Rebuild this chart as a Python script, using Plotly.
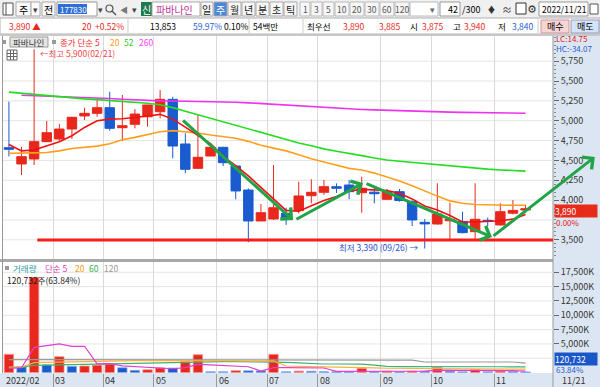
import plotly.graph_objects as go

W, H = 600, 387
FONT = "Noto Sans CJK KR"

# ---------------- DATA ----------------
weeks = ["2022-02-07","2022-02-14","2022-02-21","2022-02-28","2022-03-07","2022-03-14","2022-03-21","2022-03-28",
         "2022-04-04","2022-04-11","2022-04-18","2022-04-25","2022-05-02","2022-05-09","2022-05-16","2022-05-23",
         "2022-05-30","2022-06-06","2022-06-13","2022-06-20","2022-06-27","2022-07-04","2022-07-11","2022-07-18",
         "2022-07-25","2022-08-01","2022-08-08","2022-08-15","2022-08-22","2022-08-29","2022-09-05","2022-09-12",
         "2022-09-19","2022-09-26","2022-10-03","2022-10-10","2022-10-17","2022-10-24","2022-10-31","2022-11-07",
         "2022-11-14","2022-11-21"]

opens  = [4660,4455,4518,4736,4770,4895,5060,5093,5164,4912,4955,5050,5113,5269,4707,4400,4555,4665,4429,4127,
          3737,3762,3834,3867,4055,4098,4169,4190,4093,4100,4010,4106,3980,3720,3699,3740,3728,3602,3745,3687,
          3835,3875]
highs  = [5240,4672,5900,4996,4960,5050,5164,5282,5365,5324,5147,5200,5387,5302,4841,5072,4680,4670,4430,4148,
          3951,4442,3904,4232,4262,4253,4210,4253,4295,4170,4140,4140,4000,3760,4212,3967,3854,4212,3780,3960,
          4000,3940]
lows   = [4550,4316,4442,4730,4750,4770,5009,5050,4874,4744,4904,4925,5030,4526,4338,4400,4555,4429,4010,3469,
          3737,3750,3687,3834,3960,4064,4090,4010,3841,3960,4000,3980,3674,3390,3690,3510,3580,3506,3670,3680,
          3820,3840]
closes = [4640,4547,4736,4849,4895,5043,5093,5164,4904,4937,5084,5198,5269,4681,4388,4539,4665,4471,4115,3737,
          3841,3904,3758,4052,4098,4169,4149,4106,4149,4080,4106,3994,3750,3700,3825,3758,3590,3758,3730,3854,
          3870,3890]

ma5   = [4700,4620,4630,4680,4735,4810,4915,5000,5020,5025,5038,5060,5080,5020,4920,4815,4710,4550,4435,4305,
         4165,4015,3870,3860,3930,3995,4045,4115,4135,4130,4120,4085,4015,3925,3875,3805,3725,3725,3730,3740,
         3760,3820]
ma20  = [4590,4590,4595,4600,4620,4650,4665,4680,4710,4760,4790,4825,4860,4875,4860,4845,4820,4800,4780,4740,
         4690,4655,4620,4570,4520,4480,4440,4400,4380,4340,4290,4240,4180,4110,4050,3990,3960,3945,3940,3935,
         3935,3935]
ma52  = [5360,5345,5330,5315,5300,5285,5275,5265,5255,5245,5235,5220,5200,5165,5120,5075,5030,4990,4945,4900,
         4855,4810,4765,4720,4685,4645,4615,4590,4560,4530,4505,4490,4475,4460,4445,4430,4415,4400,4390,4380,
         4370,4365]
ma260 = [None,5320,5315,5310,5300,5295,5290,5285,5280,5270,5262,5255,5250,5248,5246,5244,5241,5238,5232,5225,
         5215,5205,5198,5190,5182,5172,5160,5150,5142,5136,5130,5125,5120,5115,5112,5108,5105,5102,5100,5098,
         5096,5094]

volume = [3190,1000,16630,1350,2780,1100,1150,1300,1500,850,400,500,820,800,1900,3120,160,150,340,320,
          300,3190,150,260,240,170,160,150,750,150,250,150,260,240,900,250,150,500,150,260,
          189,121]   # thousand shares
vma5   = [750,850,4400,4650,5000,4570,4600,1530,1570,1180,1060,910,810,670,880,1430,1360,1230,1130,1020,
          250,860,860,840,830,800,200,200,300,280,290,290,250,250,420,420,410,470,440,370,340,240]
vma20  = [950,950,1750,1800,1900,1950,2000,2050,2100,2100,2100,2100,2100,2100,2100,2150,2100,2050,2050,2000,
          2000,2050,1150,1050,1030,1000,980,950,900,820,760,750,740,730,660,640,630,630,625,620,615,600]
vma60  = [930,950,1250,1300,1350,1400,1450,1500,1550,1600,1650,1700,1750,1800,1850,1900,1900,1900,1900,1900,
          1900,1900,1800,1700,1550,1500,1500,1500,1480,1300,1100,1050,1030,1030,1030,1030,1030,1030,1030,1020,
          1010,1000]
vma120 = [2250,2250,2250,2245,2245,2240,2240,2235,2235,2230,2230,2225,2225,2220,2220,2215,2215,2210,2210,2205,
          2205,2200,2200,2195,2195,2190,2190,2185,2185,2180,2180,2175,2175,1850,1850,1850,1850,1850,1850,1850,
          1850,1650]

# visible axis labels (3,750 and 2,500K are hidden behind the current-value boxes in the original)
price_ticks = [3500,4000,4250,4500,4750,5000,5250,5500,5750]
price_grid = [3500,3750,4000,4250,4500,4750,5000,5250,5500,5750]
vol_ticks = [5000,7500,10000,12500,15000,17500]
vol_grid = [2500,5000,7500,10000,12500,15000,17500]

# user drawn trend arrows (week index, price): start -> end
trend_arrows = [((13.7, 5021), (22.55, 3749)),
                ((22.7, 3749), (28.1, 4215)),
                ((28.26, 4215), (38.34, 3535)),
                ((38.34, 3535), (46.5, 4543))]
support_level = 3497
support_start = 2.25

# ---------------- LAYOUT HELPERS ----------------
idx = list(range(len(weeks)))
XR = [-0.47, 43.18]
YR = [3258, 6067]
VR = [-70, 19295]

RED = "#e8281c"; BLUE = "#1a5ccf"
shapes, annots = [], []

def X(x): return x / W
def Y(y): return 1 - y / H

def rect(x0, y0, x1, y1, fill=None, line=None, lw=1, layer="above"):
    shapes.append(dict(type="rect", xref="paper", yref="paper", x0=X(x0), x1=X(x1), y0=Y(y1), y1=Y(y0),
                       fillcolor=fill or "rgba(0,0,0,0)",
                       line=dict(color=line or "rgba(0,0,0,0)", width=lw if line else 0), layer=layer))

def seg(x0, y0, x1, y1, color, lw=1, layer="above"):
    shapes.append(dict(type="line", xref="paper", yref="paper", x0=X(x0), x1=X(x1), y0=Y(y0), y1=Y(y1),
                       line=dict(color=color, width=lw), layer=layer))

def text(x, y, s, color="#000", size=9, anchor="left", family=FONT):
    annots.append(dict(xref="paper", yref="paper", x=X(x), y=Y(y), text=s, showarrow=False, xanchor=anchor,
                       yanchor="middle", font=dict(family=family, size=size, color=color), borderpad=0))

# ---------------- HEADER (toolbar) ----------------
rect(0, 0, 600, 18, "#f0f0f0", layer="below")
rect(3, 3, 13, 15, "#ffffff", "#555")
seg(6, 3, 6, 15, "#555")
rect(16, 2, 31, 16, "#fafafa", "#aaa"); text(23.5, 9, "주", "#000", 10, "center")
rect(31, 2, 40, 16, "#fafafa", "#aaa"); text(35.5, 9, "▾", "#444", 9, "center")
rect(42, 2, 55, 16, "#fafafa", "#aaa"); text(48.5, 9, "전", "#000", 10, "center")
rect(57, 2, 97, 16, "#ffffff", "#999"); rect(58, 4, 87, 14, "#2f6fd6"); text(59, 9, "177830", "#fff", 8)
text(100.5, 9, "▾", "#444", 9, "center")
shapes.append(dict(type="circle", xref="paper", yref="paper", x0=X(106), x1=X(113), y0=Y(12), y1=Y(5),
                   line=dict(color="#555", width=1.2)))
seg(112, 11, 116, 15, "#555", 1.5)
text(124, 9, "◀", "#777", 8, "center"); text(134, 9, "▾", "#444", 9, "center")
rect(141, 2, 152, 16, "#1e7a4e"); text(146.5, 9, "신", "#fff", 10, "center")
rect(152, 2, 200, 16, "#ffffff", "#aaa"); text(155, 9, "파바나인", "#c0309a", 10)
per_labels = ["일", "주", "월", "년", "분", "초", "틱"]
per_edges = [201, 214, 228, 242, 256, 270, 284, 298]
for i, lab in enumerate(per_labels):
    sel = lab == "주"
    rect(per_edges[i], 2, per_edges[i + 1] - 1, 16, "#4a88dc" if sel else "#f7f7f7", "#aaa")
    text((per_edges[i] + per_edges[i + 1] - 1) / 2, 9, lab, "#fff" if sel else "#222", 10, "center")
num_labels = ["1", "3", "5", "10", "20", "30", "60", "120"]
num_edges = [300, 311, 323, 335, 350, 365, 380, 395, 410]
for i, lab in enumerate(num_labels):
    rect(num_edges[i], 2, num_edges[i + 1] - 1, 16, "#f7f7f7", "#bbb")
    text((num_edges[i] + num_edges[i + 1] - 1) / 2, 9, lab, "#555", 8.5, "center")
rect(410, 2, 438, 16, "#ffffff", "#bbb"); text(432, 9, "▾", "#666", 9, "center")
rect(440, 2, 460, 16, "#ffffff", "#999"); text(459, 9, "42", "#000", 9, "right"); text(461, 9, "/300", "#000", 9)
text(492, 9, "♦", "#333", 9, "center"); text(507, 9, "≈", "#333", 10, "center")
rect(516, 3, 526, 14, "#ffffff", "#333"); text(532, 9, "⚙", "#333", 11, "center", "DejaVu Sans")
rect(539, 2, 588, 16, "#ffffff", "#999"); text(541, 9, "2022/11/21", "#000", 8.5)
rect(590, 4, 598, 14, "#ffffff", "#555")

# info row
rect(0, 18, 600, 34, "#ffffff", "#b0b0b0", layer="below")
IS = 8.5
text(8, 26, "3,890 ▲", RED, IS); text(81, 26, "20", RED, IS); text(94, 26, "+0.52%", RED, IS)
seg(128, 19, 128, 33, "#ccc")
text(177, 26, "13,853", "#000", IS, "right"); text(192, 26, "59.97%", "#2a5bd0", IS); text(223, 26, "0.10%", "#000", IS)
seg(249, 19, 249, 33, "#ccc")
text(252, 26, "54백만", "#000", IS)
seg(303, 19, 303, 33, "#ccc")
text(306, 26, "최우선", "#000", IS)
text(342, 26, "3,890", RED, IS); text(378, 26, "3,885", RED, IS)
text(409, 26, "시", "#000", IS); text(421, 26, "3,875", RED, IS)
text(452, 26, "고", "#000", IS); text(463, 26, "3,940", RED, IS)
text(497, 26, "저", "#000", IS); text(511, 26, "3,840", "#2a5bd0", IS)
seg(538, 19, 538, 33, "#ccc")
rect(541, 20, 569, 33, "#f8d4d4", "#c99"); text(555, 26.5, "매수", "#000", 9, "center")
rect(571, 20, 599, 33, "#d4e4f8", "#99b"); text(585, 26.5, "매도", "#000", 9, "center")

# panels / borders
rect(0, 34, 600, 36, "#c8c8c8", layer="below")
rect(553, 36, 600, 387, "#dce6f2", layer="below")
rect(0, 373, 600, 387, "#dce6f2", layer="below")
seg(0, 260.5, 553, 260.5, "#a8a8a8", 3, layer="below")
seg(2.5, 36, 2.5, 373, "#999", 1, layer="below")
seg(553, 36, 553, 387, "#999", 1, layer="below")

# price legend
rect(2, 40, 6, 44, "#999"); rect(10, 37, 48, 47, "#e4e4e4", "#999"); text(12, 42, "파바나인", "#333", 8.5)
rect(52, 40, 56, 44, "#999")
text(59, 42, "종가 단순 5", "#ff2a2a", 8.5); text(109, 42, "20", "#ffa020", 8.5)
text(123, 42, "52", "#33cc33", 8.5); text(138, 42, "260", "#ff40ff", 8.5)
rect(7, 50, 17, 60, "#ffffff", "#666"); seg(7, 53.5, 17, 53.5, "#666"); seg(7, 56.5, 17, 56.5, "#666")
seg(10.5, 50, 10.5, 60, "#666"); seg(13.5, 50, 13.5, 60, "#666")

# volume legend
rect(5, 266, 9, 270, "#999")
text(12, 268, "거래량", "#2aa0a0", 8.5); text(44, 268, "단순 5", "#e040c0", 8.5); text(74, 268, "20", "#f0a020", 8.5)
text(88, 268, "60", "#30b050", 8.5); text(103, 268, "120", "#999", 8.5)
text(6, 280, "120,732주(63.84%)", "#222", 8.5)

# right axis extras
text(555, 39, "LC:14.75", "#e02020", 8); text(555, 49, "HC:-34.07", "#2a5bd0", 8)
annots.append(dict(xref="paper", yref="y", x=X(554), y=closes[-1], yshift=-2, text=f"{closes[-1]:,}", showarrow=False,
                   xanchor="left", yanchor="middle", width=42, align="left", bgcolor="#e82a1a",
                   font=dict(family=FONT, size=8.5, color="#fff"), borderpad=0))
annots.append(dict(xref="paper", yref="y", x=X(555), y=closes[-1], yshift=-14, text="0.00%", showarrow=False,
                   xanchor="left", yanchor="middle", font=dict(family=FONT, size=8, color="#e02020"), borderpad=0))
annots.append(dict(xref="paper", yref="paper", x=X(554), y=Y(359), text="120,732",
                   showarrow=False, xanchor="left", yanchor="middle", width=42, align="left", bgcolor="#1a56c8",
                   font=dict(family=FONT, size=8.5, color="#fff"), borderpad=0))
text(555, 369.5, "63.84%", "#2a5bd0", 8)
text(561, 380, "11/21", "#333", 9)

# month labels along the bottom strip
bounds = [i - 0.5 for i in range(1, len(weeks)) if weeks[i][5:7] != weeks[i - 1][5:7]]
annots.append(dict(xref="x2", yref="paper", x=XR[0] + 0.05, y=Y(380), text=weeks[0][:4] + "/" + weeks[0][5:7],
                   showarrow=False, xanchor="left", yanchor="middle", font=dict(family=FONT, size=9, color="#333")))
for b in bounds:
    m = weeks[int(b + 0.5)][5:7]
    annots.append(dict(xref="x2", yref="paper", x=b, y=Y(380), text=m, showarrow=False, xanchor="left",
                       yanchor="middle", font=dict(family=FONT, size=9, color="#333")))

# extreme labels
imax = max(idx, key=lambda i: highs[i]); imin = min(idx, key=lambda i: lows[i])
annots.append(dict(xref="x", yref="y", x=imax, y=highs[imax], yshift=-4, xshift=4, showarrow=False, xanchor="left",
                   yanchor="middle", text=f"←최고 {highs[imax]:,}({weeks[imax][5:7]}/{weeks[imax][8:10]})",
                   font=dict(family=FONT, size=8.5, color="#f04848")))
annots.append(dict(xref="x", yref="y", x=imin, y=lows[imin], yshift=2, xshift=-4, showarrow=False, xanchor="right",
                   yanchor="middle", text=f"최저 {lows[imin]:,} ({weeks[imin][5:7]}/{weeks[imin][8:10]}) →",
                   font=dict(family=FONT, size=8.5, color="#2a50d0")))

# trend arrows
for (x0, y0), (x1, y1) in trend_arrows:
    annots.append(dict(xref="x", yref="y", axref="x", ayref="y", x=x1, y=y1, ax=x0, ay=y0, text="",
                       showarrow=True, arrowhead=4, arrowsize=1.0, arrowwidth=3, arrowcolor="#21a347",
                       standoff=0, startstandoff=0))

# support line
shapes.append(dict(type="line", xref="x", yref="y", x0=support_start, x1=XR[1], y0=support_level, y1=support_level,
                   line=dict(color="#ff1a1a", width=3), layer="above"))

# ---------------- TRACES ----------------
fig = go.Figure()
fig.add_trace(go.Candlestick(x=idx, open=opens, high=highs, low=lows, close=closes, whiskerwidth=0,
                             increasing=dict(line=dict(color=RED, width=1), fillcolor=RED),
                             decreasing=dict(line=dict(color=BLUE, width=1), fillcolor=BLUE),
                             xaxis="x", yaxis="y", hoverinfo="skip"))
for vals, col in [(ma260, "#ee33ee"), (ma52, "#22dd22"), (ma20, "#ff9f1a"), (ma5, "#f01010")]:
    fig.add_trace(go.Scatter(x=idx, y=vals, mode="lines", line=dict(color=col, width=1.6),
                             xaxis="x", yaxis="y", hoverinfo="skip"))

vcolors = [RED] + [RED if volume[i] >= volume[i - 1] else BLUE for i in range(1, len(volume))]
vedges = ["#f49a94" if c == RED else "#8fb0e8" for c in vcolors]
fig.add_trace(go.Bar(x=idx, y=volume, width=0.75, marker=dict(color=vcolors, line=dict(color=vedges, width=0.8)),
                     xaxis="x2", yaxis="y2", hoverinfo="skip"))
for vals, col in [(vma120, "#999999"), (vma60, "#3cb371"), (vma20, "#f8b040"), (vma5, "#e23fd0")]:
    fig.add_trace(go.Scatter(x=idx, y=vals, mode="lines", line=dict(color=col, width=1.2),
                             xaxis="x2", yaxis="y2", hoverinfo="skip"))

# horizontal grid lines (incl. the levels whose labels are hidden)
for g in price_grid:
    shapes.append(dict(type="line", xref="x", yref="y", x0=XR[0], x1=XR[1], y0=g, y1=g,
                       line=dict(color="#e4e4e4", width=1), layer="below"))
for g in vol_grid:
    shapes.append(dict(type="line", xref="x2", yref="y2", x0=XR[0], x1=XR[1], y0=g, y1=g,
                       line=dict(color="#e4e4e4", width=1), layer="below"))

tickfont = dict(family=FONT, size=9, color="#333")
fig.update_layout(
    width=W, height=H, margin=dict(l=0, r=0, t=0, b=0), showlegend=False,
    paper_bgcolor="#ffffff", plot_bgcolor="#ffffff", boxgap=0.25, boxgroupgap=0,
    xaxis=dict(domain=[X(3), X(553)], range=XR, anchor="y", tickmode="array", tickvals=bounds,
               showticklabels=False, ticks="", showgrid=True, gridcolor="#dadada", zeroline=False,
               rangeslider=dict(visible=False), fixedrange=True),
    yaxis=dict(domain=[Y(259), Y(36)], range=YR, side="right", anchor="x", tickmode="array",
               tickvals=price_ticks, ticktext=[f"{v:,}" for v in price_ticks], tickfont=tickfont,
               ticks="outside", ticklen=5, tickcolor="#666", showgrid=False,
               zeroline=False, showline=False,
               minor=dict(tickmode="linear", tick0=0, dtick=50, ticks="outside", ticklen=2, tickcolor="#888",
                          showgrid=False)),
    xaxis2=dict(domain=[X(3), X(553)], range=XR, anchor="y2", matches="x", tickmode="array", tickvals=bounds,
                showticklabels=False, ticks="outside", ticklen=14, tickcolor="#999", showgrid=True,
                gridcolor="#dadada", zeroline=False),
    yaxis2=dict(domain=[Y(373), Y(262)], range=VR, side="right", anchor="x2", tickmode="array",
                tickvals=vol_ticks, ticktext=[f"{v:,}K" for v in vol_ticks], tickfont=tickfont,
                ticks="outside", ticklen=5, tickcolor="#666", showgrid=False,
                zeroline=False),
    shapes=shapes, annotations=annots,
)
fig.write_html("out.html")
